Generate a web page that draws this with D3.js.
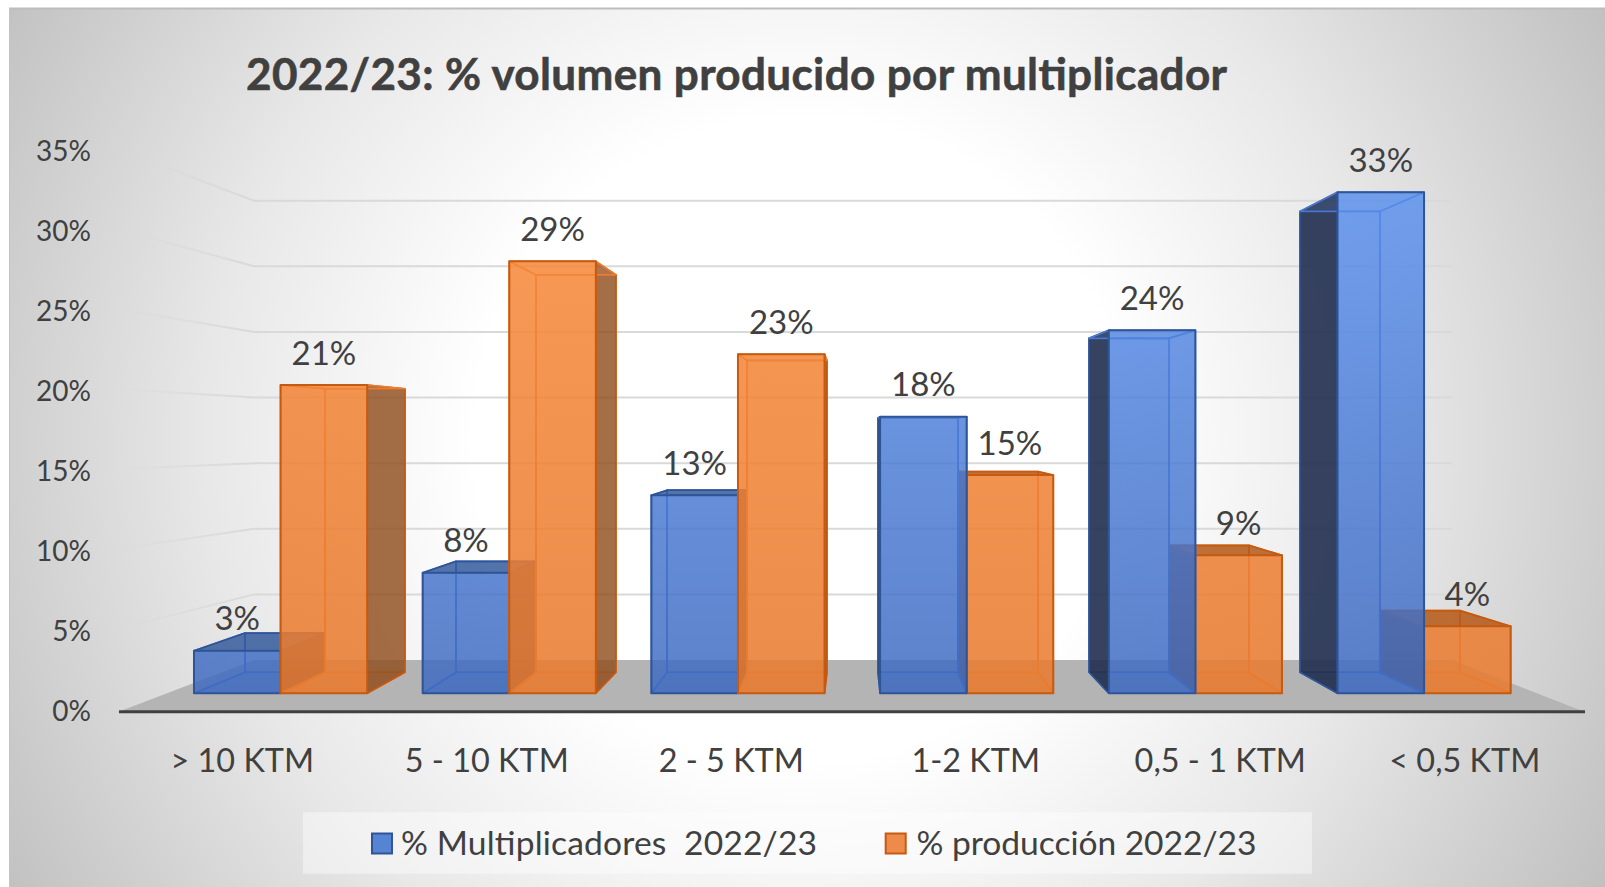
<!DOCTYPE html>
<html><head><meta charset="utf-8">
<script src="https://cdnjs.cloudflare.com/ajax/libs/d3/7.8.5/d3.min.js"></script>
<style>html,body{margin:0;padding:0;background:#fff;overflow:hidden}text{font-family:Lato,"Open Sans",sans-serif;fill:#404040}</style>
</head><body><svg id="c" width="1605" height="887"></svg>
<script>
const categories = ["> 10 KTM","5 - 10 KTM","2 - 5 KTM","1-2 KTM","0,5 - 1 KTM","< 0,5 KTM"];
const seriesNames = ["% Multiplicadores  2022/23","% producción 2022/23"];
const multiplicadores = [2.84,8.04,13.2,18.44,24.2,33.4];
const produccion = [20.55,28.8,22.6,14.55,9.2,4.47];
const yTicks = [0,5,10,15,20,25,30,35];
const title = "2022/23: % volumen producido por multiplicador";

const svg = d3.select("#c");
const W = 1605, H = 887;
const defs = svg.append("defs");
const bg = defs.append("radialGradient").attr("id","bg").attr("gradientUnits","userSpaceOnUse")
  .attr("cx",800).attr("cy",440).attr("r",1).attr("gradientTransform","translate(800 440) scale(955 950) translate(-800 -440)");
[[0,"#ffffff"],[0.34,"#ffffff"],[0.62,"#e8e8e8"],[0.87,"#cbcbcb"],[1,"#bcbcbc"]].forEach(s=>bg.append("stop").attr("offset",s[0]).attr("stop-color",s[1]));
const fade = defs.append("linearGradient").attr("id","fade").attr("gradientUnits","userSpaceOnUse").attr("x1",118).attr("x2",254).attr("y1",0).attr("y2",0);
fade.append("stop").attr("offset",0).attr("stop-color","#d9d9d9").attr("stop-opacity",0.2);
fade.append("stop").attr("offset",1).attr("stop-color","#d9d9d9").attr("stop-opacity",1);
function barGrad(id,a,b){
  const g = defs.append("linearGradient").attr("id",id).attr("gradientUnits","userSpaceOnUse").attr("x1",0).attr("x2",0).attr("y1",190).attr("y2",695);
  g.append("stop").attr("offset",0).attr("stop-color",a);
  g.append("stop").attr("offset",1).attr("stop-color",b);
}
barGrad("gBlue","#5a90ee","#3c68be");
barGrad("gOrange","#f88a3c","#e87a2e");

svg.append("rect").attr("x",9.5).attr("y",9).attr("width",W-9.5).attr("height",H-9).attr("fill","url(#bg)");
svg.append("line").attr("x1",9).attr("x2",W).attr("y1",8.5).attr("y2",8.5).attr("stroke","#bdbdbd").attr("stroke-width",2);
svg.append("line").attr("x1",9.5).attr("x2",9.5).attr("y1",8).attr("y2",H).attr("stroke","#c4c4c4").attr("stroke-width",1);

// scales: the axis plane, the back wall, the bars' front plane and their back plane
const yAxisS = d3.scaleLinear().domain([0,35]).range([712,152]);
const yWall  = d3.scaleLinear().domain([0,35]).range([660,200.7]);
const yFront = d3.scaleLinear().domain([0,35]).range([693.3,168.3]);
const yBack  = d3.scaleLinear().domain([0,35]).range([672.3,189.3]);
const xAxisS = d3.scaleBand().domain(categories).range([118,1585]);
const xFront = d3.scaleBand().domain(categories).range([166.25,1538.4]).paddingInner(0.2427).paddingOuter(0.1213);
const xBack  = d3.scaleBand().domain(categories).range([219.5,1485.5]).paddingInner(0.2417).paddingOuter(0.1208);
const subF = d3.scaleBand().domain([0,1]).range([0,xFront.bandwidth()]);
const subB = d3.scaleBand().domain([0,1]).range([0,xBack.bandwidth()]);
const wallL = 254, wallR = 1452;

// floor
svg.append("path").datum([[wallL,yWall(0)],[wallR,yWall(0)],[xAxisS.range()[1],yAxisS(0)],[xAxisS.range()[0],yAxisS(0)]])
  .attr("d",d3.line()).attr("fill","#b4b4b4");

// gridlines
const grid = svg.append("g");
yTicks.filter(t=>t>0).forEach(t=>{
  grid.append("path").attr("d",d3.line()([[118,yAxisS(t)-3],[wallL,yWall(t)]])).attr("fill","none").attr("stroke","url(#fade)").attr("stroke-width",2);
  grid.append("line").attr("x1",wallL).attr("x2",wallR).attr("y1",yWall(t)).attr("y2",yWall(t)).attr("stroke","#d9d9d9").attr("stroke-width",2);
});

const styles = [
 {front:"url(#gBlue)",fa:.8,stroke:"#2f5597",inner:"#4a78d0",dark:"#1f2b4a",top:"#2f5597",tint:"#4f84e2"},
 {front:"url(#gOrange)",fa:.84,stroke:"#c55a11",inner:"#ed7d31",dark:"#8a4a1c",top:"#b0520f",tint:"#f58a3e"}
];
const line = d3.line();
function drawBar(g,cat,s,v){
  const st = styles[s];
  const fl = xFront(cat)+subF(s), fr = fl+subF.bandwidth();
  const bl = xBack(cat)+subB(s), br = bl+subB.bandwidth();
  const f0 = yFront(0), f1 = yFront(v), b0 = yBack(0), b1 = yBack(v);
  const poly = (pts,fill,op,stroke,sw)=>g.append("path").attr("d",line(pts)+"Z").attr("fill",fill).attr("fill-opacity",op)
      .attr("stroke",stroke).attr("stroke-width",sw).attr("stroke-linejoin","round");
  // back + bottom
  poly([[bl,b1],[br,b1],[br,b0],[bl,b0]],st.tint,.18,st.inner,1.6);
  poly([[bl,b0],[br,b0],[fr,f0],[fl,f0]],st.inner,.3,st.inner,1.6);
  // sides: outward-facing ones are dark, inward-facing ones only tint what is behind them
  const leftOut = bl<fl, rightOut = br>fr;
  poly([[bl,b1],[fl,f1],[fl,f0],[bl,b0]],leftOut?st.dark:st.tint,leftOut?.88:.14,leftOut?st.stroke:st.inner,1.6);
  poly([[br,b1],[fr,f1],[fr,f0],[br,b0]],rightOut?st.dark:st.tint,rightOut?.78:.14,rightOut?st.stroke:st.inner,1.6);
  // top: dark when seen from above, only a tint when the bar rises past eye level
  const above = b1<f1;
  poly([[fl,f1],[fr,f1],[br,b1],[bl,b1]],above?st.top:st.tint,above?.8:.14,above?st.stroke:st.inner,1.6);
  // front
  poly([[fl,f1],[fr,f1],[fr,f0],[fl,f0]],st.front,st.fa,st.stroke,2);
}
const bars = svg.append("g");
categories.forEach((cat,i)=>{
  const order = i<3 ? [0,1] : [1,0];
  order.forEach(s=>drawBar(bars,cat,s,(s===0?multiplicadores:produccion)[i]));
});

// front axis
svg.append("line").attr("x1",119).attr("x2",1585).attr("y1",yAxisS(0)-.3).attr("y2",yAxisS(0)-.3).attr("stroke","#404040").attr("stroke-width",3);

// axes labels
const yAxis = svg.append("g").attr("transform","translate(91,-1)")
  .call(d3.axisLeft(yAxisS).tickValues(yTicks).tickSize(0).tickPadding(0).tickFormat(d=>d+"%"));
const xAxis = svg.append("g").attr("transform","translate(2,748)")
  .call(d3.axisBottom(xAxisS).tickSize(0).tickPadding(0));
[yAxis,xAxis].forEach(a=>{a.select(".domain").remove();a.selectAll("text").style("font-family","Lato").attr("fill","#404040");});
yAxis.selectAll("text").style("font-size","28px").attr("dy","0.355em");
xAxis.selectAll("text").style("font-size","32.4px").attr("dy","24px");

// data labels
const labels = svg.append("g").attr("font-size",33).attr("text-anchor","middle");
[multiplicadores,produccion].forEach((vals,s)=>{
  labels.selectAll(null).data(vals).join("text")
    .attr("x",(d,i)=>xFront(categories[i])+subF(s)+subF.bandwidth()/2)
    .attr("y",d=>yFront(d)-20.5)
    .text(d=>d3.format(".0f")(d)+"%");
});

// title
svg.append("text").attr("x",246).attr("y",90).attr("font-size",44).attr("font-weight",700)
  .attr("stroke","#404040").attr("stroke-width",.6)
  .attr("textLength",981).attr("lengthAdjust","spacing").text(title);

// legend
svg.append("rect").attr("x",303).attr("y",812.3).attr("width",1009).attr("height",61.4).attr("fill","#fff").attr("fill-opacity",.42);
const legX = [371,884.7], legT = [401,916.5], legW = [416,340];
seriesNames.forEach((n,s)=>{
  svg.append("rect").attr("x",legX[s]+1).attr("y",833.5).attr("width",20).attr("height",20)
    .attr("fill",s?"#ef8b4a":"#5584d2").attr("stroke",styles[s].stroke).attr("stroke-width",2);
  svg.append("text").attr("x",legT[s]).attr("y",854.5).attr("font-size",33.6).style("white-space","pre")
    .attr("textLength",legW[s]).attr("lengthAdjust","spacing").text(n);
});
</script></body></html>
